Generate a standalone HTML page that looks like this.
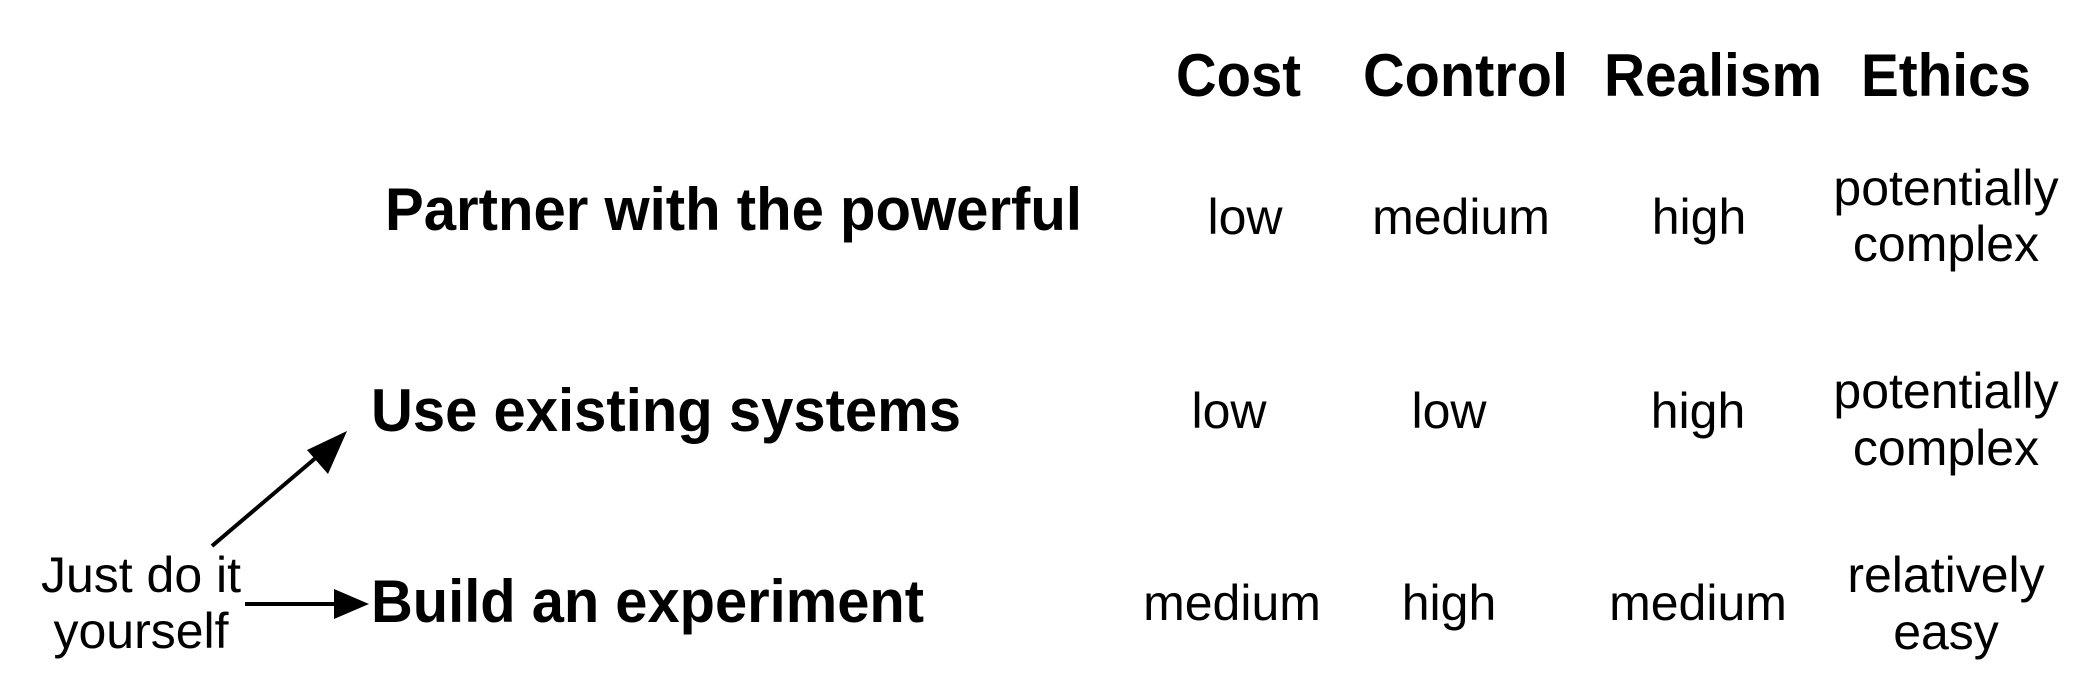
<!DOCTYPE html>
<html><head><meta charset="utf-8"><style>
html,body{margin:0;padding:0;background:#fff;}
svg{display:block;}
text{font-family:"Liberation Sans",Arial,sans-serif;fill:#000;}
.h{font-weight:bold;font-size:60px;}
.v{font-size:50px;text-anchor:middle;}
</style></head><body>
<svg width="2099" height="699" viewBox="0 0 2099 699" xmlns="http://www.w3.org/2000/svg">
<text class="h" x="1176" y="96" textLength="125" lengthAdjust="spacingAndGlyphs">Cost</text>
<text class="h" x="1363" y="96" textLength="205" lengthAdjust="spacingAndGlyphs">Control</text>
<text class="h" x="1604" y="96" textLength="218" lengthAdjust="spacingAndGlyphs">Realism</text>
<text class="h" x="1861" y="96" textLength="170" lengthAdjust="spacingAndGlyphs">Ethics</text>

<text class="h" x="385" y="230" textLength="697" lengthAdjust="spacingAndGlyphs">Partner with the powerful</text>
<text class="h" x="371" y="431" textLength="590" lengthAdjust="spacingAndGlyphs">Use existing systems</text>
<text class="h" x="371" y="622" textLength="553" lengthAdjust="spacingAndGlyphs">Build an experiment</text>

<text class="v" x="1245" y="234">low</text>
<text class="v" x="1461" y="234">medium</text>
<text class="v" x="1699" y="234">high</text>
<text class="v" x="1946" y="205">potentially</text>
<text class="v" x="1946" y="261">complex</text>

<text class="v" x="1229" y="428">low</text>
<text class="v" x="1449" y="428">low</text>
<text class="v" x="1698" y="428">high</text>
<text class="v" x="1946" y="408">potentially</text>
<text class="v" x="1946" y="465">complex</text>

<text class="v" x="1232" y="620">medium</text>
<text class="v" x="1449" y="620">high</text>
<text class="v" x="1698" y="620">medium</text>
<text class="v" x="1946" y="592">relatively</text>
<text class="v" x="1946" y="649">easy</text>

<text class="v" x="141" y="592">Just do it</text>
<text class="v" x="141" y="648">yourself</text>

<line x1="212" y1="546" x2="325" y2="450" stroke="#000" stroke-width="4"/>
<polygon points="347,431 328,474 307,450" fill="#000"/>
<line x1="245" y1="604" x2="340" y2="604" stroke="#000" stroke-width="4"/>
<polygon points="369,604 334,589 334,619" fill="#000"/>
</svg>
</body></html>
